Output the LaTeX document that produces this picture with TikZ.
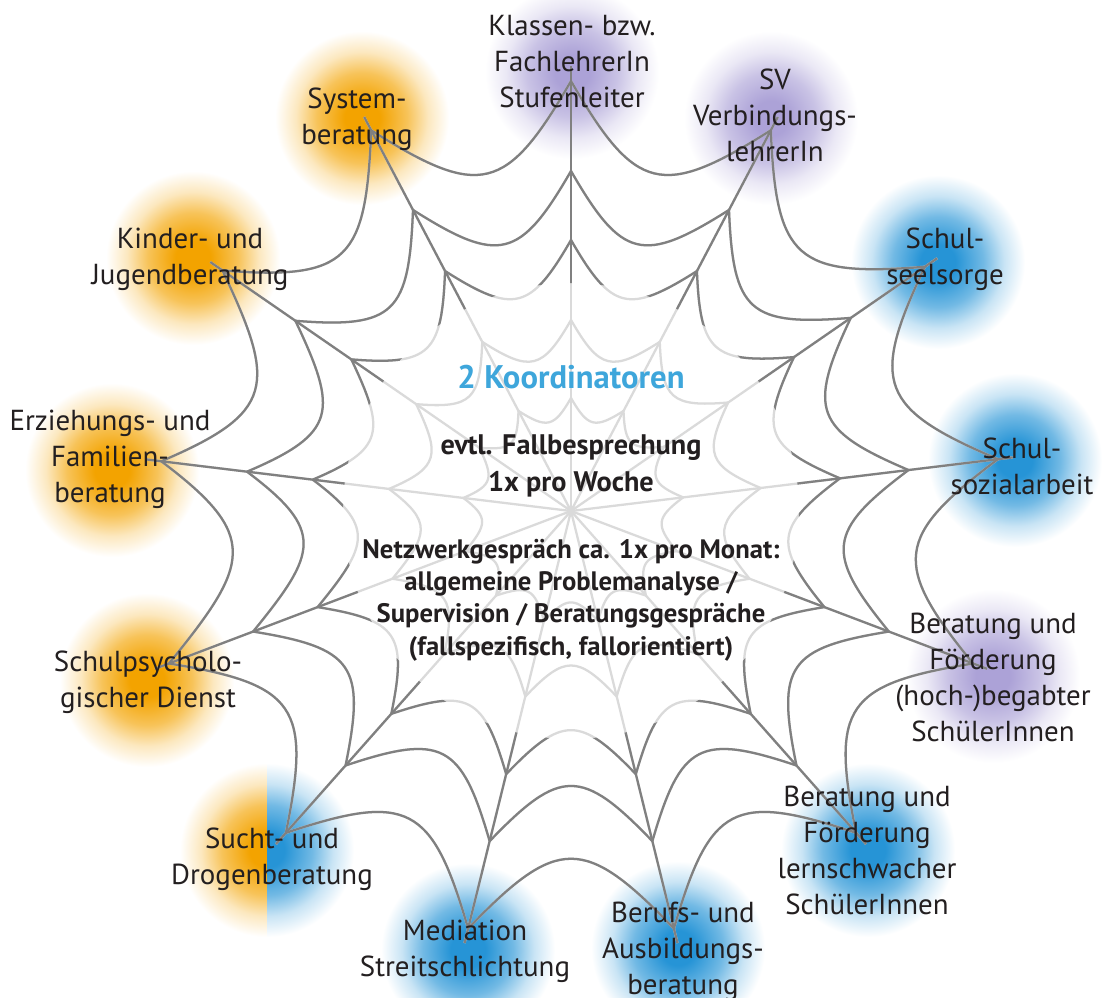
\documentclass[tikz,border=0pt]{standalone}
\usepackage{fontspec}
\setmainfont{PT Sans}
\usetikzlibrary{calc}
\definecolor{txt}{RGB}{35,31,32}
\definecolor{webdark}{RGB}{128,128,128}
\definecolor{weblight}{RGB}{218,218,218}
\definecolor{koord}{RGB}{62,166,219}
\definecolor{gOr}{RGB}{243,163,0}
\definecolor{gBl}{RGB}{38,148,214}
\definecolor{gPu}{RGB}{172,162,215}
\pgfdeclareradialshading{glowOr}{\pgfpointorigin}{color(0bp)=(gOr); color(5bp)=(gOr); color(13bp)=(gOr!65!white); color(19bp)=(gOr!25!white); color(25bp)=(white); color(50bp)=(white)}
\pgfdeclareradialshading{glowBl}{\pgfpointorigin}{color(0bp)=(gBl); color(5bp)=(gBl); color(13bp)=(gBl!65!white); color(19bp)=(gBl!25!white); color(25bp)=(white); color(50bp)=(white)}
\pgfdeclareradialshading{glowPu}{\pgfpointorigin}{color(0bp)=(gPu); color(5bp)=(gPu); color(13bp)=(gPu!65!white); color(19bp)=(gPu!25!white); color(25bp)=(white); color(50bp)=(white)}
\newcommand\drawweb[1]{%
  \foreach \k in {0,...,12}{%
    \pgfmathsetmacro\a{-90+360/13*\k}%
    \pgfmathsetmacro\b{\a+360/13}%
    \pgfmathsetmacro\sa{{1,1,1,1,1,1,1,1,1,1,0.96,0.985,1}[\k]}%
    \pgfmathtruncatemacro\kn{mod(\k+1,13)}%
    \pgfmathsetmacro\sb{{1,1,1,1,1,1,1,1,1,1,0.96,0.985,1}[\kn]}%
    \coordinate (tip\k) at ($(C)+(\a:445*\sa)$);
    \draw[#1] (C) -- (tip\k);
    \foreach \r in {113,191,271,340,430}{%
      \draw[#1] ($(C)+(\a:\r*\sa)$) .. controls ($(C)+(\a:\r*\sa)+(\a+150:0.3*\r*\sa)$) and ($(C)+(\b:\r*\sb)+(\b+210:0.3*\r*\sb)$) .. ($(C)+(\b:\r*\sb)$);
    }
  }}
\begin{document}
\begin{tikzpicture}[x=0.75pt,y=-0.75pt,
  lbl/.style={align=center,inner sep=0pt,text=txt,font=\fontsize{21.7}{27}\selectfont},
  koordtext/.style={align=center,inner sep=0pt,text=koord,font=\bfseries\fontsize{24.5}{27}\selectfont},
  midtext/.style={align=center,inner sep=0pt,text=txt,font=\bfseries\fontsize{21.2}{27.7}\selectfont},
  smalltext/.style={align=center,inner sep=0pt,text=txt,font=\bfseries\fontsize{20}{24.2}\selectfont},
  weblite/.style={draw=weblight,line width=1.7pt},
  webdk/.style={draw=webdark,line width=1.7pt}]
\useasboundingbox (0,0) rectangle (1105,997);
\fill[white] (0,0) rectangle (1105,997);
\coordinate (C) at (571,511);
% glows
\foreach \gx/\gy/\sh in {362/118/glowOr, 572/72/glowPu, 771/118/glowPu, 938/262/glowBl, 1015/460/glowBl, 993/676/glowPu, 868/850/glowBl, 678/948/glowBl, 468/950/glowBl, 147/680/glowOr, 112/470/glowOr, 193/258/glowOr}
  \shade[shading=\sh] (\gx,\gy) circle (87);
\begin{scope}
  \clip (0,0) rectangle (267,997);
  \shade[shading=glowOr] (267,850) circle (87);
\end{scope}
\begin{scope}
  \clip (267,0) rectangle (1105,997);
  \shade[shading=glowBl] (267,850) circle (87);
\end{scope}
% web
\drawweb{weblite}
\begin{scope}[even odd rule]
  \clip (0,0) rectangle (1105,997) (C) circle (228);
  \drawweb{webdk}
\end{scope}
% centre texts
\node[koordtext] (koord) at (571,377) {2 Koordinatoren};
\node[midtext] (fall) at (571,466) {evtl. Fallbesprechung\\1x pro Woche};
\node[smalltext] (netz) at (571,600) {Netzwerkgespräch ca. 1x pro Monat:\\allgemeine Problemanalyse /\\Supervision / Beratungsgespräche\\(fallspezifisch, fallorientiert)};
% labels
\node[lbl] (klassen) at (572,62) {Klassen- bzw.\\FachlehrerIn\\Stufenleiter};
\node[lbl] (system) at (357,119) {System-\\beratung};
\node[lbl] (sv) at (775,115) {SV\\Verbindungs-\\lehrerIn};
\node[lbl] (seel) at (945,259) {Schul-\\seelsorge};
\node[lbl] (sozial) at (1022,466) {Schul-\\sozialarbeit};
\node[lbl] (hoch) at (993,677) {Beratung und\\Förderung\\(hoch-)begabter\\SchülerInnen};
\node[lbl] (lern) at (867,850) {Beratung und\\Förderung\\lernschwacher\\SchülerInnen};
\node[lbl] (berufs) at (683,951) {Berufs- und\\Ausbildungs-\\beratung};
\node[lbl] (med) at (465,951) {Mediation\\Streitschlichtung};
\node[lbl] (sucht) at (272,859) {Sucht- und\\Drogenberatung};
\node[lbl] (psych) at (148,682) {Schulpsycholo-\\gischer Dienst};
\node[lbl] (erz) at (110,459) {Erziehungs- und\\Familien-\\beratung};
\node[lbl] (kinder) at (190,259) {Kinder- und\\Jugendberatung};
\end{tikzpicture}
\end{document}
